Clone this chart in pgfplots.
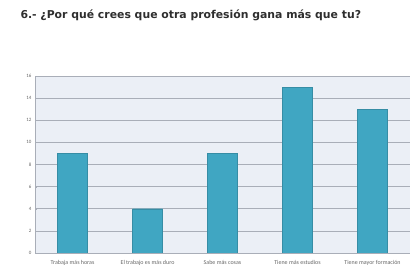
\documentclass[border=0pt]{standalone}
\usepackage{fontspec}
\setmainfont{Carlito}
\newfontfamily\titlefont{DejaVu Sans}
\usepackage{pgfplots}
\pgfplotsset{compat=1.18}
\definecolor{barc}{HTML}{40A6C2}
\definecolor{bgc}{HTML}{EBEFF6}
\definecolor{gridc}{HTML}{A9AEB8}
\begin{document}
\begin{tikzpicture}[x=1bp,y=1bp]
\path (0,0) rectangle (415,268);
\node[anchor=west,font=\titlefont\bfseries\fontsize{10.9}{12}\selectfont,text=black!82] at (17,253) {6.- ¿Por qué crees que otra profesión gana más que tu?};
\begin{axis}[
  at={(35bp,15bp)}, anchor=south west,
  scale only axis, width=375bp, height=177bp,
  xmin=-0.5, xmax=4.5, ymin=0, ymax=16,
  ytick={0,2,...,16},
  xtick=data,
  xticklabels={Trabaja más horas, El trabajo es más duro, Sabe más cosas, Tiene más estudios, Tiene mayor formación},
  yticklabel style={font=\fontsize{5}{6}\selectfont, text=black!60},
  xticklabel style={font=\fontsize{6}{7}\selectfont, text=black!60, yshift=-2bp},
  /pgf/number format/assume math mode=true,
  axis background/.style={fill=bgc},
  ymajorgrids, grid style={gridc, line width=0.7pt},
  axis line style={draw=gridc},
  axis x line*=bottom, axis y line*=left,
  major tick length=2bp,
  tick style={gridc},
  xtick style={draw=none},
  ybar, bar width=30bp,
]
\addplot[fill=barc, draw=barc!85!black] coordinates {(0,9) (1,4) (2,9) (3,15) (4,13)};
\end{axis}
\end{tikzpicture}
\end{document}
